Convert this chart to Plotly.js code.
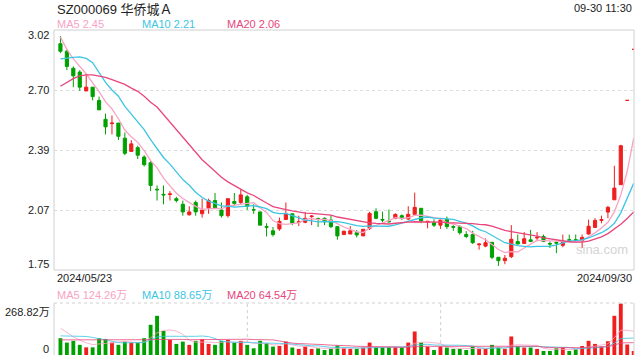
<!DOCTYPE html>
<html>
<head>
<meta charset="utf-8">
<script src="https://cdn.plot.ly/plotly-3.0.1.min.js"></script>
<style>
html,body{margin:0;padding:0;background:#fff;}
#chart{width:640px;height:360px;}
</style>
</head>
<body>
<div id="chart"></div>
<script>
// ---------- data ----------
const dates = [
"2024-05-23","2024-05-24","2024-05-27","2024-05-28","2024-05-29","2024-05-30","2024-05-31",
"2024-06-03","2024-06-04","2024-06-05","2024-06-06","2024-06-07","2024-06-11","2024-06-12","2024-06-13","2024-06-14",
"2024-06-17","2024-06-18","2024-06-19","2024-06-20","2024-06-21","2024-06-24","2024-06-25","2024-06-26","2024-06-27","2024-06-28",
"2024-07-01","2024-07-02","2024-07-03","2024-07-04","2024-07-05","2024-07-08","2024-07-09","2024-07-10","2024-07-11","2024-07-12",
"2024-07-15","2024-07-16","2024-07-17","2024-07-18","2024-07-19","2024-07-22","2024-07-23","2024-07-24","2024-07-25","2024-07-26",
"2024-07-29","2024-07-30","2024-07-31",
"2024-08-01","2024-08-02","2024-08-05","2024-08-06","2024-08-07","2024-08-08","2024-08-09","2024-08-12","2024-08-13","2024-08-14",
"2024-08-15","2024-08-16","2024-08-19","2024-08-20","2024-08-21","2024-08-22","2024-08-23","2024-08-26","2024-08-27","2024-08-28",
"2024-08-29","2024-08-30",
"2024-09-02","2024-09-03","2024-09-04","2024-09-05","2024-09-06","2024-09-09","2024-09-10","2024-09-11","2024-09-12","2024-09-13",
"2024-09-18","2024-09-19","2024-09-20","2024-09-23","2024-09-24","2024-09-25","2024-09-26","2024-09-27","2024-09-30"
];
const openP = [2.95,2.91,2.82,2.80,2.70,2.72,2.65,2.55,2.527,2.53, 2.45,2.38,2.40,2.35,2.32,2.180,2.153,2.152,2.13,2.10,
 2.045,2.11,2.05,2.08,2.12,2.07,2.04,2.115,2.11,2.14, 2.072,2.06,1.982,1.96,1.97,2.02,2.05,2.005,2.005,2.035,
 2.024,2.026,2.017,1.982,1.94,1.943,1.95,1.933,1.973,2.061, 2.02,2.011,2.026,2.04,2.022,2.047,2.079,2.006,2.003,1.99,
 2.021,1.982,1.982,1.94,1.94,1.886,1.879,1.899,1.82,1.802, 1.823,1.903,1.893,1.912,1.922,1.93,1.893,1.898,1.883,1.913,
 1.913,1.907,1.943,1.978,2.015,2.059,2.124,2.204,2.65,2.92];
const highP = [2.99,2.92,2.83,2.81,2.79,2.72,2.67,2.58,2.57,2.53, 2.48,2.44,2.41,2.36,2.33,2.20,2.20,2.17,2.14,2.12,
 2.09,2.12,2.13,2.13,2.16,2.11,2.13,2.16,2.18,2.15, 2.10,2.06,2.00,1.98,2.03,2.11,2.05,2.04,2.06,2.043,
 2.03,2.031,2.043,1.985,1.96,1.985,1.964,1.968,2.061,2.079, 2.061,2.073,2.052,2.047,2.09,2.162,2.079,2.010,2.021,2.026,
 2.035,1.99,1.99,1.958,1.96,1.893,1.92,1.899,1.82,1.832, 1.99,1.94,1.953,1.965,1.953,1.94,1.904,1.904,1.94,1.94,
 1.94,1.94,2.019,2.027,2.04,2.092,2.304,2.415,2.65,2.92];
const lowP = [2.90,2.81,2.72,2.70,2.70,2.65,2.60,2.47,2.47,2.44, 2.36,2.38,2.34,2.30,2.17,2.12,2.10,2.12,2.11,2.04,
 2.04,2.04,2.03,2.05,2.08,2.03,2.03,2.09,2.10,2.07, 2.05,1.99,1.93,1.93,1.96,2.02,1.99,1.985,2.00,1.99,
 1.98,1.99,1.974,1.913,1.94,1.943,1.925,1.933,1.964,2.021, 2.005,2.003,2.021,2.017,2.017,2.047,2.0,1.973,1.98,1.97,
 1.97,1.96,1.94,1.922,1.89,1.86,1.873,1.81,1.774,1.783, 1.815,1.89,1.893,1.9,1.904,1.9,1.869,1.842,1.873,1.904,
 1.904,1.869,1.94,1.975,2.0,2.027,2.124,2.204,2.65,2.92];
const closeP = [2.91,2.83,2.78,2.72,2.72,2.67,2.60,2.51,2.530,2.46, 2.37,2.42,2.36,2.31,2.20,2.177,2.150,2.155,2.12,2.06,
 2.06,2.06,2.07,2.12,2.08,2.04,2.13,2.105,2.15,2.09, 2.07,1.99,1.979,1.94,2.01,2.05,2.00,2.008,2.026,2.038,
 2.021,2.008,1.982,1.933,1.958,1.96,1.938,1.968,2.052,2.026, 2.017,2.008,2.047,2.026,2.047,2.084,2.013,2.010,1.99,2.017,
 1.982,1.979,1.95,1.93,1.897,1.89,1.897,1.82,1.802,1.815, 1.915,1.89,1.918,1.904,1.925,1.904,1.89,1.895,1.904,1.91,
 1.91,1.925,1.984,2.015,2.019,2.084,2.186,2.41,2.65,2.92];

const ma5 = [2.985,2.92,2.87,2.83,2.791,2.743,2.696,2.642,2.605,2.553, 2.493,2.457,2.428,2.384,2.331,2.293,2.239,2.198,2.159,2.131,
 2.108,2.089,2.073,2.074,2.079,2.076,2.090,2.096,2.101,2.103, 2.109,2.082,2.057,2.014,1.998,1.994,1.996,2.002,2.020,2.025,
 2.019,2.020,2.015,1.996,1.980,1.968,1.954,1.951,1.975,1.989, 2.000,2.014,2.030,2.025,2.029,2.042,2.043,2.036,2.029,2.023,
 2.002,1.996,1.984,1.972,1.948,1.929,1.913,1.887,1.861,1.845, 1.850,1.848,1.868,1.888,1.910,1.908,1.908,1.904,1.904,1.901,
 1.902,1.909,1.927,1.949,1.975,2.005,2.060,2.150,2.275,2.450];
const ma10 = [2.870,2.875,2.878,2.880,2.872,2.850,2.800,2.745,2.705,2.672, 2.618,2.577,2.535,2.495,2.442,2.393,2.348,2.313,2.272,2.231,
 2.201,2.164,2.136,2.117,2.105,2.092,2.090,2.085,2.088,2.091, 2.093,2.086,2.077,2.058,2.051,2.052,2.039,2.030,2.017,2.012,
 2.007,2.008,2.009,2.008,2.003,1.994,1.987,1.983,1.986,1.985, 1.984,1.984,1.991,2.000,2.009,2.021,2.029,2.033,2.027,2.026,
 2.022,2.020,2.010,2.001,1.986,1.966,1.955,1.936,1.917,1.897, 1.890,1.881,1.878,1.875,1.878,1.879,1.878,1.886,1.896,1.906,
 1.908,1.912,1.922,1.935,1.950,1.970,2.000,2.055,2.130,2.211];
const ma20 = [2.725,2.745,2.765,2.780,2.785,2.785,2.780,2.772,2.760,2.748, 2.735,2.715,2.698,2.672,2.640,2.615,2.575,2.530,2.490,2.452,
 2.410,2.371,2.336,2.306,2.274,2.243,2.219,2.199,2.180,2.161, 2.147,2.125,2.107,2.088,2.078,2.072,2.065,2.058,2.053,2.052,
 2.050,2.047,2.043,2.033,2.027,2.023,2.013,2.007,2.002,1.999, 1.996,1.996,2.000,2.004,2.006,2.008,2.008,2.008,2.007,2.006,
 2.003,2.002,2.001,2.001,1.998,1.994,1.992,1.985,1.972,1.962, 1.956,1.951,1.944,1.938,1.932,1.923,1.917,1.911,1.907,1.902,
 1.900,1.900,1.905,1.915,1.928,1.945,1.968,1.995,2.025,2.060];

// volume, 万
const volume = [88,65,74,53,40,40,88,84,65,53, 70,65,65,88,158,205,126,79,58,70,
 53,74,83,58,53,74,79,65,74,53, 35,74,62,44,47,70,39,32,44,32,
 35,26,32,49,35,32,32,40,65,40, 40,40,40,40,65,123,65,44,26,44,
 39,32,32,26,44,32,32,53,40,32, 97,47,39,39,32,21,21,35,39,21,
 30,47,74,58,44,72,205,268.82,55,21];
const volMa5 = [140,118,95,78,64,54.4,59,61,63.4,66, 72,67.4,63.6,68.2,89.2,116.2,128.4,131.2,125.2,107.6,
 77.2,66.8,67.6,67.6,64.2,68.4,69.4,65.8,69,69, 61.2,60.2,59.6,53.6,52.4,59.4,52.4,46.4,46.4,43.4,
 36.4,33.8,33.8,34.8,35.4,34.8,36,37.6,40.8,41.8, 43.4,45,45,40,45,61.6,66.6,67.4,64.6,60.4,
 43.6,37,34.6,34.6,34.6,33.2,33.2,37.4,40.2,37.8, 50.8,53.8,51,50.8,50.8,35.6,30.4,29.6,29.6,27.4,
 29.2,34.4,42.2,46,50.6,59,90.6,129.6,129,124.26];
const volMa10 = [100,100,100,99,97,92,85,78,71,65, 63.2,63.2,62.3,65.8,77.6,94.1,97.9,97.4,96.7,98.4,
 96.7,97.6,99.4,96.4,85.9,72.8,68.1,66.7,68.3,66.6, 64.8,64.8,62.7,61.3,60.7,60.3,56.3,53,50,47.9,
 47.9,43.1,40.1,40.6,39.4,35.6,34.9,35.7,37.8,38.6, 39.1,40.5,41.3,40.4,43.4,52.5,55.8,56.2,52.3,52.7,
 52.6,51.8,51,49.6,47.5,38.4,35.1,36,37.4,36.2, 42,43.5,44.2,45.5,44.3,43.2,42.1,40.3,40.2,39.1,
 32.4,32.4,35.9,37.8,39,44.1,62.5,85.9,87.5,88.65];
const volMa20 = [79,79,78,78,78,77,77,77,77,77, 78,78,78,79,80,81,82,82,82,81.7,
 80,80.4,80.9,81.1,81.8,83.5,83,82.1,82.5,82.5, 80.8,81.2,81.1,78.9,73.3,66.6,62.2,59.9,59.2,57.3,
 56.4,54,51.4,51,50.1,48,45.6,44.4,43.9,43.3, 43.5,41.8,40.7,40.5,41.4,44.1,45.4,46,45.1,45.7,
 45.9,46.2,46.2,45,45.5,45.5,45.5,46.1,44.9,44.5, 47.3,47.7,47.6,47.6,45.9,40.8,38.6,38.2,38.8,37.7,
 37.2,38,40.1,41.7,41.7,43.7,52.3,63.1,63.9,64.54];

const priceTickVals = [3.0225, 2.705, 2.3875, 2.07, 1.7525];
const priceTickText = ["3.02", "2.70", "2.39", "2.07", "1.75"];
const title = "SZ000069 华侨城Ａ";
const timeStamp = "09-30 11:30";
const priceMaLabels = ["MA5 2.45", "MA10 2.21", "MA20 2.06"];
const volMaLabels = ["MA5 124.26万", "MA10 88.65万", "MA20 64.54万"];
const volMaxLabel = "268.82万";
const startLabel = "2024/05/23", endLabel = "2024/09/30";

// ---------- style ----------
const RED = "#f01e1e", GREEN = "#00a000";
const C5 = "#f8a3c4", C10 = "#3cc5e3", C20 = "#e8467c";
const FONT = "Liberation Sans, Arial, Noto Sans CJK SC, sans-serif";

const volColors = closeP.map((c, i) => c >= openP[i] ? RED : GREEN);

const traces = [
  {type: "candlestick", x: dates, open: openP, high: highP, low: lowP, close: closeP,
   xaxis: "x", yaxis: "y", whiskerwidth: 0,
   increasing: {line: {color: RED, width: 1}, fillcolor: RED},
   decreasing: {line: {color: GREEN, width: 1}, fillcolor: GREEN},
   hoverinfo: "skip"},
  {type: "scatter", mode: "lines", x: dates, y: ma5, yaxis: "y", line: {color: C5, width: 1.3}, hoverinfo: "skip"},
  {type: "scatter", mode: "lines", x: dates, y: ma10, yaxis: "y", line: {color: C10, width: 1.3}, hoverinfo: "skip"},
  {type: "scatter", mode: "lines", x: dates, y: ma20, yaxis: "y", line: {color: C20, width: 1.3}, hoverinfo: "skip"},
  {type: "bar", x: dates, y: volume, yaxis: "y2", marker: {color: volColors, line: {width: 0}}, width: 0.6, hoverinfo: "skip"},
  {type: "scatter", mode: "lines", x: dates, y: volMa5, yaxis: "y2", line: {color: C5, width: 1}, opacity: 0.8, hoverinfo: "skip"},
  {type: "scatter", mode: "lines", x: dates, y: volMa10, yaxis: "y2", line: {color: C10, width: 1}, opacity: 0.8, hoverinfo: "skip"},
  {type: "scatter", mode: "lines", x: dates, y: volMa20, yaxis: "y2", line: {color: C20, width: 1}, opacity: 0.8, hoverinfo: "skip"}
];

// pixel helpers for text placement (plot area: x 54..634, y 30..355)
const PX = X => (X - 54) / 580;
const PY = Y => (355 - Y) / 325;
function txt(t, X, Y, anchor, color, size, extra) {
  return Object.assign({text: t, xref: "paper", yref: "paper", x: PX(X), y: PY(Y),
    xanchor: anchor, yanchor: "middle", showarrow: false,
    font: {family: FONT, size: size, color: color}}, extra || {});
}

const annotations = [
  txt(title, 55, 9, "left", "#222", 13),
  txt(timeStamp, 634, 8, "right", "#222", 11),
  txt(priceMaLabels[0], 55, 24, "left", C5, 11),
  txt(priceMaLabels[1], 140, 24, "left", C10, 11),
  txt(priceMaLabels[2], 225, 24, "left", C20, 11),
  txt(startLabel, 55, 278, "left", "#222", 11),
  txt(endLabel, 634, 278, "right", "#222", 11),
  txt(volMaLabels[0], 55, 294.5, "left", C5, 11),
  txt(volMaLabels[1], 140, 294.5, "left", C10, 11),
  txt(volMaLabels[2], 225, 294.5, "left", C20, 11),
  txt(volMaxLabel, 52, 312, "right", "#222", 11),
  txt("0", 51, 349, "right", "#222", 11),
  txt("sina.com", 602, 249, "center", "#d4d4d4", 13)
];
priceTickVals.forEach((v, i) => {
  const shift = i === 0 ? -5 : (i === priceTickVals.length - 1 ? 6.5 : 0);
  annotations.push({text: priceTickText[i], xref: "paper", yref: "y", x: PX(51), y: v,
    xanchor: "right", yanchor: "middle", yshift: shift, showarrow: false,
    font: {family: FONT, size: 11, color: "#222"}});
});

const shapes = [
  {type: "rect", xref: "x domain", yref: "y domain", x0: 0, x1: 1, y0: 0, y1: 1,
   line: {color: "#d0d0d0", width: 1}, layer: "above"},
  {type: "line", xref: "x domain", yref: "y2 domain", x0: 0, x1: 0, y0: 0, y1: 1, line: {color: "#d0d0d0", width: 1}},
  {type: "line", xref: "x domain", yref: "y2 domain", x0: 1, x1: 1, y0: 0, y1: 1, line: {color: "#d0d0d0", width: 1}},
  {type: "line", xref: "x domain", yref: "y2 domain", x0: 0, x1: 1, y0: 1, y1: 1, line: {color: "#d0d0d0", width: 1, dash: "dot"}},
  {type: "line", xref: "x domain", yref: "y2 domain", x0: 1/3, x1: 1/3, y0: 0, y1: 1, line: {color: "#d0d0d0", width: 1, dash: "dot"}, layer: "below"},
  {type: "line", xref: "x domain", yref: "y2 domain", x0: 2/3, x1: 2/3, y0: 0, y1: 1, line: {color: "#d0d0d0", width: 1, dash: "dot"}, layer: "below"}
];

const layout = {
  width: 640, height: 360,
  margin: {l: 54, r: 6, t: 30, b: 5, pad: 0},
  paper_bgcolor: "#fff", plot_bgcolor: "#fff",
  showlegend: false,
  font: {family: FONT, size: 11, color: "#222"},
  xaxis: {type: "category", range: [-1, 89.05], anchor: "y2", showticklabels: false, showgrid: false,
          zeroline: false, showline: false, ticks: "", rangeslider: {visible: false}, fixedrange: true},
  yaxis: {domain: [0.2615, 1], range: [1.7525, 3.0225], tickvals: priceTickVals.slice(1, 4),
          showticklabels: false, showgrid: true, gridcolor: "#dcdcdc", griddash: "dot", gridwidth: 1,
          zeroline: false, showline: false, ticks: "", fixedrange: true},
  yaxis2: {domain: [0, 0.16], range: [0, 272], showticklabels: false, showgrid: false,
           zeroline: false, showline: false, ticks: "", fixedrange: true},
  bargap: 0.4,
  annotations: annotations,
  shapes: shapes
};

Plotly.newPlot("chart", traces, layout, {displayModeBar: false, staticPlot: true});
</script>
</body>
</html>
